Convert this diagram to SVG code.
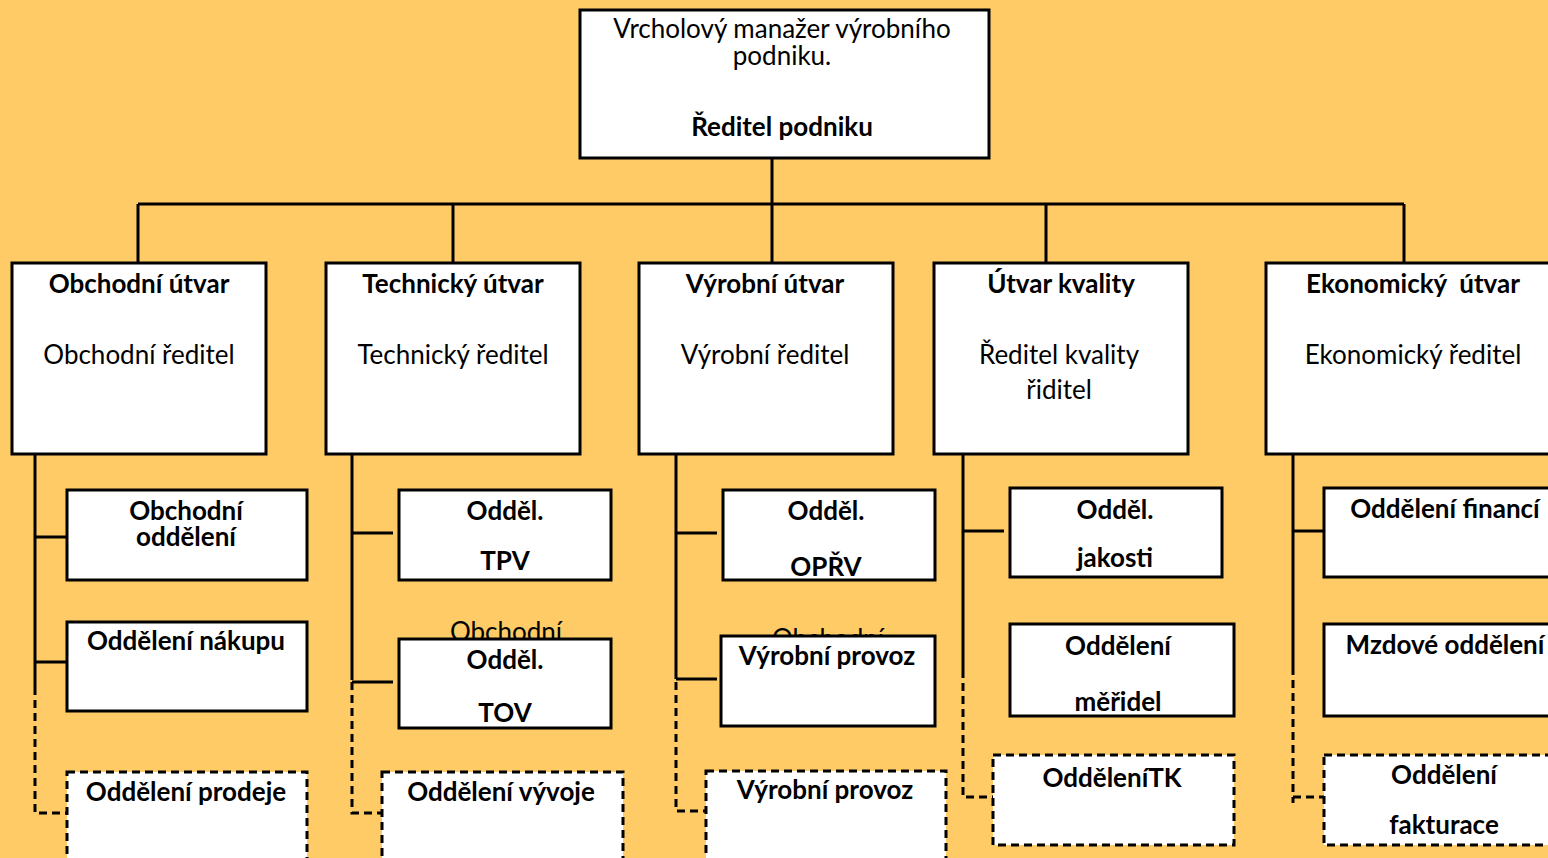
<svg xmlns="http://www.w3.org/2000/svg" width="1548" height="858" viewBox="0 0 1548 858">
<style>
.bg{fill:#FECB66}
.box{fill:#fff;stroke:#000;stroke-width:3}
.dbox{fill:#fff;stroke:#000;stroke-width:3;stroke-dasharray:8 5}
.ln{fill:none;stroke:#000;stroke-width:3}
.dl{fill:none;stroke:#000;stroke-width:3;stroke-dasharray:8 5}
text{font-family:Lato,"Liberation Sans",sans-serif;font-size:26px;fill:#000;text-anchor:middle}
.b{font-weight:bold}
</style>
<rect class="bg" x="0" y="0" width="1548" height="858"/>
<g id="hidden-texts">
<text x="506" y="641">Obchodní</text>
<text x="828" y="648">Obchodní</text>
</g>
<g id="connectors">
<path class="ln" d="M772 159V204M138 204H1404M138 204V263M453 204V263M772 204V263M1046 204V263M1404 204V263"/>
<path class="ln" d="M35 454V687M35 537H66M35 662H66"/>
<path class="dl" d="M35 687V813H66"/>
<path class="ln" d="M352 454V680M352 533H393M352 682H393"/>
<path class="dl" d="M352 682V813H382"/>
<path class="ln" d="M676 454V679M676 533H717M676 679H717"/>
<path class="dl" d="M676 682V811H706"/>
<path class="ln" d="M963 454V670M963 531H1004"/>
<path class="dl" d="M963 670V797H993"/>
<path class="ln" d="M1293 454V667M1293 531H1324"/>
<path class="dl" d="M1293 667V803M1293 797H1324"/>
</g>
<g id="n-top">
<rect class="box" x="580" y="10" width="409" height="148"/>
<text x="782" y="38">Vrcholový manažer výrobního</text>
<text x="782" y="65">podniku.</text>
<text class="b" x="782" y="136">Ředitel podniku</text>
</g>
<g id="n-obchodni-utvar">
<rect class="box" x="12" y="263" width="254" height="191"/>
<text class="b" x="139" y="293">Obchodní útvar</text>
<text x="139" y="364">Obchodní ředitel</text>
</g>
<g id="n-technicky-utvar">
<rect class="box" x="326" y="263" width="254" height="191"/>
<text class="b" x="453" y="293">Technický útvar</text>
<text x="453" y="364">Technický ředitel</text>
</g>
<g id="n-vyrobni-utvar">
<rect class="box" x="639" y="263" width="254" height="191"/>
<text class="b" x="765" y="293">Výrobní útvar</text>
<text x="765" y="364">Výrobní ředitel</text>
</g>
<g id="n-utvar-kvality">
<rect class="box" x="934" y="263" width="254" height="191"/>
<text class="b" x="1061" y="293">Útvar kvality</text>
<text x="1059" y="364">Ředitel kvality</text>
<text x="1059" y="399">řiditel</text>
</g>
<g id="n-ekonomicky-utvar">
<rect class="box" x="1266" y="263" width="300" height="191"/>
<text class="b" x="1413" y="293" style="white-space:pre">Ekonomický  útvar</text>
<text x="1413" y="364">Ekonomický ředitel</text>
</g>
<g id="n-obchodni-oddeleni">
<rect class="box" x="67" y="490" width="240" height="90"/>
<text class="b" x="186" y="520">Obchodní</text>
<text class="b" x="186" y="546">oddělení</text>
</g>
<g id="n-nakup">
<rect class="box" x="67" y="622" width="240" height="89"/>
<text class="b" x="186" y="650">Oddělení nákupu</text>
</g>
<g id="n-prodej">
<rect class="dbox" x="67" y="772" width="240" height="100"/>
<text class="b" x="186" y="801">Oddělení prodeje</text>
</g>
<g id="n-tpv">
<rect class="box" x="399" y="490" width="212" height="90"/>
<text class="b" x="505" y="520">Odděl.</text>
<text class="b" x="505" y="570">TPV</text>
</g>
<g id="n-tov">
<rect class="box" x="399" y="639" width="212" height="89"/>
<text class="b" x="505" y="669">Odděl.</text>
<text class="b" x="505" y="722">TOV</text>
</g>
<g id="n-vyvoj">
<rect class="dbox" x="382" y="772" width="241" height="100"/>
<text class="b" x="501" y="801">Oddělení vývoje</text>
</g>
<g id="n-oprv">
<rect class="box" x="723" y="490" width="212" height="90"/>
<text class="b" x="826" y="520">Odděl.</text>
<text class="b" x="826" y="576">OPŘV</text>
</g>
<g id="n-provoz">
<rect class="box" x="721" y="636" width="214" height="90"/>
<text class="b" x="827" y="665">Výrobní provoz</text>
</g>
<g id="n-provoz2">
<rect class="dbox" x="706" y="771" width="240" height="100"/>
<text class="b" x="825" y="799">Výrobní provoz</text>
</g>
<g id="n-jakost">
<rect class="box" x="1010" y="488" width="212" height="89"/>
<text class="b" x="1115" y="519">Odděl.</text>
<text class="b" x="1115" y="567">jakosti</text>
</g>
<g id="n-meridla">
<rect class="box" x="1010" y="624" width="224" height="92"/>
<text class="b" x="1118" y="655">Oddělení</text>
<text class="b" x="1118" y="711">měřidel</text>
</g>
<g id="n-tk">
<rect class="dbox" x="993" y="755" width="241" height="90"/>
<text class="b" x="1112" y="787">OdděleníTK</text>
</g>
<g id="n-financi">
<rect class="box" x="1324" y="488" width="240" height="89"/>
<text class="b" x="1445" y="518">Oddělení financí</text>
</g>
<g id="n-mzdove">
<rect class="box" x="1324" y="624" width="240" height="92"/>
<text class="b" x="1445" y="654">Mzdové oddělení</text>
</g>
<g id="n-fakturace">
<rect class="dbox" x="1324" y="755" width="240" height="90"/>
<text class="b" x="1444" y="784">Oddělení</text>
<text class="b" x="1444" y="834">fakturace</text>
</g>
</svg>
